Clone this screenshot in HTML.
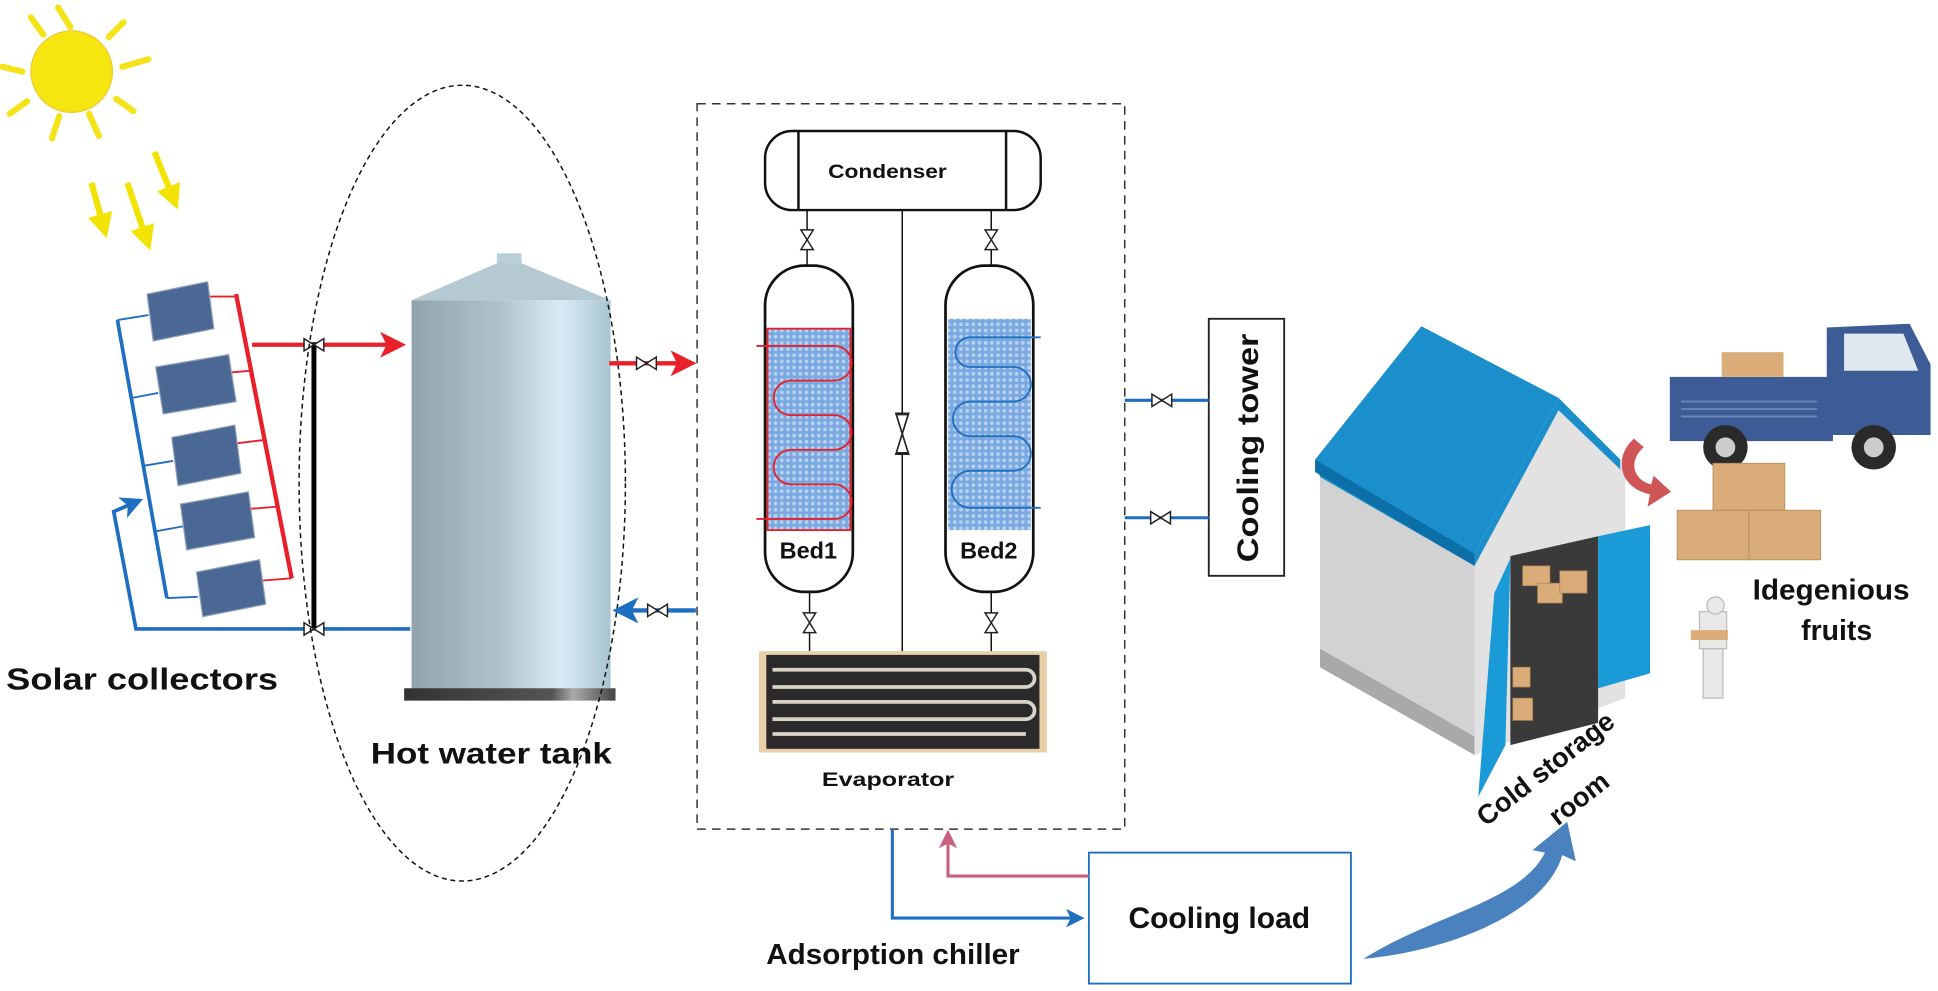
<!DOCTYPE html>
<html><head><meta charset="utf-8"><style>
html,body{margin:0;padding:0;background:#fff;overflow:hidden}
svg{display:block}
text{font-family:"Liberation Sans",Arial,sans-serif;font-weight:bold;fill:#111}
</style></head><body>
<svg width="1938" height="991" viewBox="0 0 1568 802" preserveAspectRatio="none" xmlns="http://www.w3.org/2000/svg">
<defs>
<linearGradient id="tank" x1="0" x2="1" y1="0" y2="0">
<stop offset="0" stop-color="#8fa4ad"/><stop offset="0.45" stop-color="#aec3cc"/><stop offset="0.75" stop-color="#d8edf6"/><stop offset="1" stop-color="#a9c4d0"/></linearGradient>
<linearGradient id="base" x1="0" x2="1"><stop offset="0" stop-color="#333"/><stop offset="0.7" stop-color="#555"/><stop offset="0.8" stop-color="#aaa"/><stop offset="1" stop-color="#444"/></linearGradient>
<pattern id="dots" width="5" height="5" patternUnits="userSpaceOnUse"><rect width="5" height="5" fill="#7aa8e0"/><circle cx="2.5" cy="2.5" r="1.5" fill="#b8d2f2"/></pattern>
<marker id="ar" markerWidth="6" markerHeight="6" refX="5" refY="3" orient="auto" markerUnits="strokeWidth"><path d="M0,0 L6,3 L0,6 L1.5,3z" fill="#e8202a"/></marker>
<marker id="ab" markerWidth="6" markerHeight="6" refX="5" refY="3" orient="auto" markerUnits="strokeWidth"><path d="M0,0 L6,3 L0,6 L1.5,3z" fill="#1f6fc0"/></marker>
<marker id="ap" markerWidth="6" markerHeight="6" refX="5" refY="3" orient="auto" markerUnits="strokeWidth"><path d="M0,0 L6,3 L0,6 L1.5,3z" fill="#c96080"/></marker>
<marker id="ay" markerWidth="4" markerHeight="4" refX="3" refY="2" orient="auto" markerUnits="strokeWidth"><path d="M0,0 L4,2 L0,4z" fill="#f2e400"/></marker>
<g id="vh"><path d="M-8,-5 L8,5 L8,-5 L-8,5z" fill="#fff" stroke="#222" stroke-width="1.2"/></g>
<g id="vv"><path d="M-5,-8 L5,8 L-5,8 L5,-8z" fill="#fff" stroke="#222" stroke-width="1.2"/></g>
</defs>

<!-- sun -->
<g stroke="#f5e31a" stroke-width="5" stroke-linecap="round">
<line x1="57" y1="22" x2="47" y2="6"/><line x1="88" y1="30" x2="100" y2="18"/><line x1="99" y1="54" x2="120" y2="48"/>
<line x1="94" y1="80" x2="108" y2="90"/><line x1="72" y1="92" x2="80" y2="110"/><line x1="48" y1="94" x2="42" y2="112"/>
<line x1="22" y1="82" x2="8" y2="92"/><line x1="18" y1="58" x2="2" y2="54"/><line x1="35" y1="28" x2="25" y2="14"/>
</g>
<circle cx="58" cy="58" r="33" fill="#f5e60f" stroke="#efc83a" stroke-width="1"/>
<g stroke="#f2e400" stroke-width="5" marker-end="url(#ay)">
<line x1="74" y1="148" x2="85" y2="188"/><line x1="103" y1="148" x2="120" y2="198"/><line x1="125" y1="123" x2="142" y2="165"/>
</g>

<!-- collector piping -->
<line x1="191" y1="238" x2="236" y2="468" stroke="#e8202a" stroke-width="3.5"/>
<g stroke="#e8202a" stroke-width="1.5">
<line x1="168" y1="240" x2="192" y2="240"/><line x1="180" y1="302" x2="203" y2="300"/><line x1="190" y1="359" x2="214" y2="356"/><line x1="200" y1="412" x2="225" y2="410"/><line x1="210" y1="470" x2="236" y2="468"/></g>
<line x1="204" y1="279" x2="325" y2="279" stroke="#e8202a" stroke-width="3.5" marker-end="url(#ar)"/>
<line x1="95" y1="259" x2="135" y2="484" stroke="#1f6fc0" stroke-width="3"/>
<g stroke="#1f6fc0" stroke-width="1.5">
<line x1="95" y1="259" x2="120" y2="255"/><line x1="107" y1="322" x2="128" y2="318"/><line x1="116" y1="377" x2="140" y2="373"/><line x1="126" y1="430" x2="148" y2="426"/><line x1="135" y1="484" x2="160" y2="483"/></g>
<polyline points="332,509 110,509 92,414 113,405" fill="none" stroke="#1f6fc0" stroke-width="3" marker-end="url(#ab)"/>
<g fill="#4b6794" stroke="#8ea0bb" stroke-width="1">
<polygon points="119,238 168,228 173,266 124,276"/>
<polygon points="126,297 185,287 191,325 132,335"/>
<polygon points="139,354 190,344 195,383 144,393"/>
<polygon points="146,408 201,398 206,435 151,445"/>
<polygon points="159,463 210,453 215,489 164,499"/>
</g>
<line x1="254" y1="277" x2="254" y2="509" stroke="#000" stroke-width="4"/>
<use href="#vh" x="254" y="279"/><use href="#vh" x="254" y="509"/>

<!-- tank -->
<rect x="402" y="205" width="20" height="10" fill="#b9cfd8"/>
<path d="M333,243 L402,213 L422,213 L494,243 Z" fill="#b5c9d2"/>
<rect x="333" y="243" width="161" height="315" fill="url(#tank)"/>
<rect x="327" y="557" width="171" height="10" fill="url(#base)"/>
<ellipse cx="374" cy="391" rx="132" ry="322" fill="none" stroke="#111" stroke-width="1.2" stroke-dasharray="4,3"/>
<line x1="493" y1="294" x2="560" y2="294" stroke="#e8202a" stroke-width="3.5" marker-end="url(#ar)"/>
<use href="#vh" x="523" y="294"/>
<line x1="563" y1="494" x2="499" y2="494" stroke="#1f6fc0" stroke-width="3.5" marker-end="url(#ab)"/>
<use href="#vh" x="532" y="494"/>
<text x="5" y="558" font-size="25" textLength="220" lengthAdjust="spacingAndGlyphs">Solar collectors</text>
<text x="300" y="618" font-size="24" textLength="195" lengthAdjust="spacingAndGlyphs">Hot water tank</text>

<!-- chiller box -->
<rect x="564" y="84" width="346" height="587" fill="none" stroke="#333" stroke-width="1.2" stroke-dasharray="7,5"/>
<rect x="619" y="106" width="223" height="64" rx="22" fill="#fff" stroke="#111" stroke-width="2"/>
<line x1="646" y1="106" x2="646" y2="170" stroke="#111" stroke-width="2"/><line x1="814" y1="106" x2="814" y2="170" stroke="#111" stroke-width="2"/>
<text x="670" y="144" font-size="16" textLength="96" lengthAdjust="spacingAndGlyphs">Condenser</text>
<g stroke="#111" stroke-width="1.2"><line x1="653" y1="170" x2="653" y2="215"/><line x1="802" y1="170" x2="802" y2="215"/>
<line x1="730" y1="170" x2="730" y2="527"/><line x1="655" y1="479" x2="655" y2="527"/><line x1="802" y1="479" x2="802" y2="527"/></g>
<use href="#vv" x="653" y="194"/><use href="#vv" x="802" y="194"/>
<g transform="translate(730,351) scale(1,2)"><use href="#vv"/></g>
<use href="#vv" x="655" y="504"/><use href="#vv" x="802" y="504"/>
<rect x="619" y="215" width="71" height="264" rx="32" fill="#fff" stroke="#111" stroke-width="2.2"/>
<rect x="765" y="215" width="71" height="264" rx="32" fill="#fff" stroke="#111" stroke-width="2.2"/>
<rect x="621" y="266" width="67" height="163" fill="url(#dots)" stroke="#e8202a" stroke-width="1.5"/>
<rect x="767" y="258" width="67" height="171" fill="url(#dots)"/>
<path d="M612,280 H675 a14,14 0 0 1 0,28 H640 a14,14 0 0 0 0,28 H675 a14,14 0 0 1 0,28 H640 a14,14 0 0 0 0,28 H675 a14,14 0 0 1 0,28 H612" fill="none" stroke="#e8202a" stroke-width="1.5"/>
<path d="M842,273 H785 a12,12 0 0 0 0,24 H820 a12,12 0 0 1 0,28 H785 a12,12 0 0 0 0,28 H820 a12,12 0 0 1 0,28 H785 a12,12 0 0 0 0,30 H842" fill="none" stroke="#1f6fc0" stroke-width="1.5"/>
<text x="654" y="452" font-size="19" text-anchor="middle">Bed1</text>
<text x="800" y="452" font-size="19" text-anchor="middle">Bed2</text>
<rect x="614" y="527" width="233" height="82" fill="#e8cfa8"/>
<rect x="620" y="530" width="221" height="76" fill="#2a2a2a"/>
<g fill="none" stroke="#d9d4c8" stroke-width="3">
<path d="M625,542 H830 a7,7 0 0 1 0,14 H625"/><path d="M625,568 H830 a7,7 0 0 1 0,14 H625"/><path d="M625,594 H830"/></g>
<text x="665" y="636" font-size="16" textLength="107" lengthAdjust="spacingAndGlyphs">Evaporator</text>

<!-- cooling tower -->
<rect x="978" y="258" width="61" height="208" fill="#fff" stroke="#222" stroke-width="1.5"/>
<text transform="translate(1018,455) rotate(-90)" font-size="24" textLength="185" lengthAdjust="spacingAndGlyphs">Cooling tower</text>
<line x1="910" y1="324" x2="978" y2="324" stroke="#1f6fc0" stroke-width="2.5"/><line x1="910" y1="419" x2="978" y2="419" stroke="#1f6fc0" stroke-width="2.5"/>
<use href="#vh" x="940" y="324"/><use href="#vh" x="939" y="419"/>

<!-- cooling load -->
<rect x="881" y="690" width="212" height="106" fill="#fff" stroke="#1f6fc0" stroke-width="1.5"/>
<text x="913" y="751" font-size="24" textLength="147" lengthAdjust="spacingAndGlyphs">Cooling load</text>
<polyline points="722,671 722,743 875,743" fill="none" stroke="#1f6fc0" stroke-width="2.5" marker-end="url(#ab)"/>
<polyline points="881,709 767,709 767,674" fill="none" stroke="#c96080" stroke-width="2.5" marker-end="url(#ap)"/>
<text x="620" y="780" font-size="23" textLength="205" lengthAdjust="spacingAndGlyphs">Adsorption chiller</text>

<!-- blue curved arrow -->
<path d="M1103,776 C1160,740 1230,730 1250,690 L1240,688 L1268,665 L1275,697 L1264,692 C1250,740 1170,770 1103,776 Z" fill="#4a82bf"/>

<!-- house -->
<polygon points="1068,386 1193,457 1193,611 1068,540" fill="#d2d2d2"/>
<polygon points="1068,525 1193,596 1193,611 1068,540" fill="#a9a9a9"/>
<polygon points="1193,457 1261,329 1315,382 1315,565 1193,611" fill="#e2e2e2"/>
<polygon points="1064,372 1150,264 1261,322 1193,448 1193,458 1068,386" fill="#1a8fcc"/>
<polygon points="1064,372 1193,448 1193,458 1064,382" fill="#0d6fa8"/>
<polygon points="1261,322 1311,372 1311,380 1261,332 1193,458 1193,448" fill="#1a8fcc"/>
<polygon points="1222,450 1293,434 1293,585 1222,603" fill="#3a3a3a"/>
<polygon points="1222,452 1209,480 1196,645 1218,603" fill="#1a9ad6"/>
<polygon points="1293,434 1335,425 1335,545 1293,557" fill="#1a9ad6"/>
<g fill="#d9ac7a" stroke="#b08456" stroke-width="0.6">
<rect x="1232" y="458" width="22" height="16"/><rect x="1244" y="472" width="20" height="16"/><rect x="1262" y="462" width="22" height="18"/>
<rect x="1224" y="540" width="14" height="16"/><rect x="1224" y="565" width="16" height="18"/></g>

<!-- truck -->
<rect x="1351" y="305" width="132" height="52" fill="#3d5c95"/>
<path d="M1478,265 L1545,262 L1562,295 L1562,352 L1478,352 Z" fill="#3d5c95"/>
<path d="M1492,270 L1540,270 L1552,300 L1492,300 Z" fill="#dfe8ee"/>
<g stroke="#6b86b8" stroke-width="1.5"><line x1="1360" y1="325" x2="1470" y2="325"/><line x1="1360" y1="331" x2="1470" y2="331"/><line x1="1360" y1="337" x2="1470" y2="337"/></g>
<circle cx="1396" cy="362" r="18" fill="#2a2a2a"/><circle cx="1396" cy="362" r="8" fill="#ccc"/>
<circle cx="1516" cy="362" r="18" fill="#2a2a2a"/><circle cx="1516" cy="362" r="8" fill="#ccc"/>
<rect x="1393" y="285" width="50" height="20" fill="#d9ac7a"/>
<path d="M1322,355 C1305,370 1310,395 1335,400 L1333,410 L1352,398 L1338,385 L1336,392 C1320,388 1318,372 1330,362 Z" fill="#d05556"/>
<g fill="#d9ac7a" stroke="#b8915f" stroke-width="0.8">
<rect x="1386" y="375" width="58" height="38"/><rect x="1357" y="413" width="58" height="40"/><rect x="1415" y="413" width="58" height="40"/></g>
<g fill="#e8e8e8" stroke="#bbb"><rect x="1375" y="495" width="22" height="30"/><rect x="1378" y="525" width="16" height="40"/><circle cx="1388" cy="490" r="7"/></g>
<rect x="1368" y="510" width="30" height="8" fill="#d9ac7a"/>
<text x="1418" y="485" font-size="23" textLength="127" lengthAdjust="spacingAndGlyphs">Idegenious</text>
<text x="1486" y="518" font-size="23" text-anchor="middle">fruits</text>
<text transform="translate(1255,628) rotate(-38)" font-size="22" text-anchor="middle">Cold storage</text>
<text transform="translate(1282,652) rotate(-38)" font-size="22" text-anchor="middle">room</text>
</svg>
</body></html>
